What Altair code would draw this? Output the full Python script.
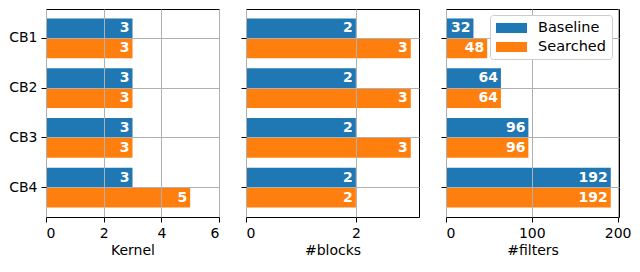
import altair as alt
import pandas as pd

blocks = ["CB1", "CB2", "CB3", "CB4"]
series = ["Baseline", "Searched"]
colors = ["#1f77b4", "#ff7f0e"]

kernel_baseline = [3, 3, 3, 3]
kernel_searched = [3, 3, 3, 5]
nblocks_baseline = [2, 2, 2, 2]
nblocks_searched = [3, 3, 3, 2]
filters_baseline = [32, 64, 96, 192]
filters_searched = [48, 64, 96, 192]

FONT = "DejaVu Sans"


def frame(b, s):
    rows = []
    for i, cb in enumerate(blocks):
        rows.append({"block": cb, "series": "Baseline", "value": b[i]})
        rows.append({"block": cb, "series": "Searched", "value": s[i]})
    return pd.DataFrame(rows)


legend = alt.Legend(
    title=None, orient="none", legendX=444, legendY=6,
    symbolType="M-2.07,-0.67H2.07V0.67H-2.07Z", symbolSize=225,
    symbolStrokeWidth=0, labelFont=FONT, labelFontSize=14.5, labelColor="black",
    rowPadding=4, padding=5.5, strokeColor="#cccccc", fillColor="white",
    cornerRadius=3, labelOffset=19, symbolOffset=8.5,
)


def panel(df, title, domain, ticks, show_labels):
    y = alt.Y(
        "block:N", sort=blocks, title=None,
        scale=alt.Scale(paddingInner=0.2, paddingOuter=0.19),
        axis=alt.Axis(labels=show_labels, bandPosition=0.5, zindex=1),
    )
    x = alt.X(
        "value:Q", title=title,
        scale=alt.Scale(domain=domain, nice=False, zero=True),
        axis=alt.Axis(values=ticks, zindex=1),
    )
    yoff = alt.YOffset("series:N", sort=series)
    bars = alt.Chart(df).mark_bar().encode(
        x=x, y=y, yOffset=yoff,
        color=alt.Color("series:N", scale=alt.Scale(domain=series, range=colors), legend=legend),
    )
    text = alt.Chart(df).mark_text(
        align="right", baseline="middle", dx=-3, color="white",
        fontWeight="bold", fontSize=14, font=FONT,
    ).encode(x=x, y=y, yOffset=yoff, text="value:Q")
    return (bars + text).properties(width=173, height=208)


p1 = panel(frame(kernel_baseline, kernel_searched), "Kernel", [0, 6], [0, 2, 4, 6], True)
p2 = panel(frame(nblocks_baseline, nblocks_searched), "#blocks", [0, 3.15], [0, 2], False)
p3 = panel(frame(filters_baseline, filters_searched), "#filters", [0, 201.6], [0, 100, 200], False)

chart = alt.hconcat(p1, p2, p3, spacing=27, bounds="flush").properties(
    padding=0, background="white"
).configure_view(
    stroke="black", strokeWidth=1, fill="white"
).configure_axis(
    domain=False, grid=True, gridColor="#b0b0b0", gridWidth=1,
    tickColor="black", tickSize=5, tickWidth=1,
    labelFont=FONT, labelFontSize=14, labelColor="black", labelPadding=4,
    titleFont=FONT, titleFontSize=14, titleFontWeight="normal", titleColor="black",
    titlePadding=3,
)

chart.save("out.html", embed_options={"renderer": "svg", "actions": False})
